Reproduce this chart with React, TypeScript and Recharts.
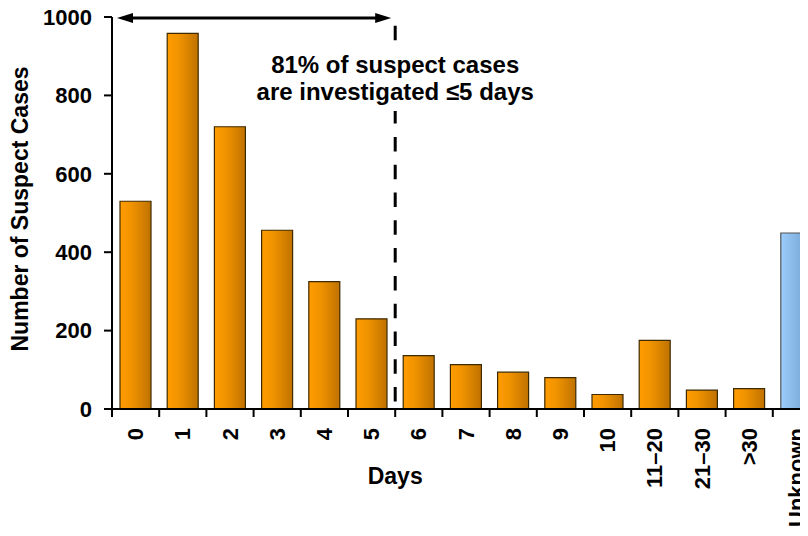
import React from 'react';
import {
  BarChart,
  Bar,
  Cell,
  XAxis,
  YAxis,
  ReferenceLine,
  Label,
} from 'recharts';

const categories = ['0', '1', '2', '3', '4', '5', '6', '7', '8', '9', '10', '11–20', '21–30', '>30', 'Unknown'];
const suspectCases = [530, 958, 720, 456, 325, 230, 136, 113, 94, 80, 37, 175, 48, 52, 449];
const yTicks = [0, 200, 400, 600, 800, 1000];
const noteLines = ['81% of suspect cases', 'are investigated ≤5 days'];
const cutoffCategory = '6';
const unknownCategory = 'Unknown';

const data = categories.map((day, i) => ({ day, cases: suspectCases[i] }));

const FONT = '"Liberation Sans", Arial, sans-serif';
const CHART_W = 830;
const CHART_H = 528;
const MARGIN = { top: 9, right: 18, bottom: 0, left: 0 };
const Y_AXIS_W = 104;
const X_AXIS_H = 127;
const PLOT_W = CHART_W - MARGIN.left - MARGIN.right - Y_AXIS_W;
const BAND = PLOT_W / categories.length;

const XTick = (props: any) => {
  const { x, y, payload } = props;
  return (
    <g>
      <line x1={x - BAND / 2} x2={x - BAND / 2} y1={y - 8} y2={y} stroke="#000" strokeWidth={2} />
      <text
        x={x}
        y={y + 11}
        transform={`rotate(-90, ${x}, ${y + 11})`}
        textAnchor="end"
        dominantBaseline="central"
        fontFamily={FONT}
        fontWeight="bold"
        fontSize={22}
        fill="#000"
      >
        {payload.value}
      </text>
    </g>
  );
};

// dashed cutoff line, dashes laid out from the top down
const CutoffShape = (props: any) => {
  const { x1, y1, y2 } = props;
  const top = Math.min(y1, y2) + 8.7;
  const bottom = Math.max(y1, y2);
  return (
    <line x1={x1} x2={x1} y1={top} y2={bottom} stroke="#000" strokeWidth={3} strokeDasharray="14.5 13.3" />
  );
};

const ArrowShape = (props: any) => {
  const { x1, y1 } = props;
  const left = x1 + 5;
  const right = x1 + 6 * BAND - 4;
  const y = y1 + 1;
  return (
    <g>
      <line x1={left + 10} x2={right - 10} y1={y} y2={y} stroke="#000" strokeWidth={3} />
      <polygon points={`${left},${y} ${left + 16},${y - 5} ${left + 16},${y + 5}`} fill="#000" />
      <polygon points={`${right},${y} ${right - 16},${y - 5} ${right - 16},${y + 5}`} fill="#000" />
    </g>
  );
};

const NoteLabel = (props: any) => {
  const { viewBox } = props;
  const cx = viewBox.x;
  return (
    <g>
      <rect x={cx - 145} y={33} width={290} height={70} fill="#fff" />
      {noteLines.map((line, i) => (
        <text
          key={line}
          x={cx}
          y={65 + i * 27}
          textAnchor="middle"
          fontFamily={FONT}
          fontWeight="bold"
          fontSize={24}
          fill="#000"
        >
          {line}
        </text>
      ))}
    </g>
  );
};

export default function App() {
  return (
    <div style={{ width: 800, height: CHART_H, marginBottom: -8, overflow: 'hidden' }}>
      <BarChart width={CHART_W} height={CHART_H} data={data} margin={MARGIN}>
        <defs>
          <linearGradient id="orangeFill" x1="0" y1="0" x2="1" y2="0">
            <stop offset="0%" stopColor="#FF9C00" />
            <stop offset="35%" stopColor="#F29400" />
            <stop offset="100%" stopColor="#BF7200" />
          </linearGradient>
          <linearGradient id="blueFill" x1="0" y1="0" x2="1" y2="0">
            <stop offset="0%" stopColor="#9CCDFB" />
            <stop offset="100%" stopColor="#6E9DC9" />
          </linearGradient>
        </defs>
        <XAxis
          dataKey="day"
          type="category"
          interval={0}
          height={X_AXIS_H}
          axisLine={{ stroke: '#000', strokeWidth: 2 }}
          tickLine={false}
          tick={<XTick />}
        >
          <Label
            content={(p: any) => (
              <text
                x={p.viewBox.x + p.viewBox.width * 0.4}
                y={p.viewBox.y + 75}
                textAnchor="middle"
                fontFamily={FONT}
                fontWeight="bold"
                fontSize={23}
                fill="#000"
              >
                Days
              </text>
            )}
          />
        </XAxis>
        <YAxis
          width={Y_AXIS_W}
          domain={[0, 1000]}
          ticks={yTicks}
          interval={0}
          axisLine={{ stroke: '#000', strokeWidth: 2 }}
          tickLine={{ stroke: '#000', strokeWidth: 2 }}
          tickSize={8}
          tickMargin={12}
          tick={{ fill: '#000', fontFamily: FONT, fontWeight: 'bold', fontSize: 22 }}
        >
          <Label
            content={(p: any) => {
              const x = 20;
              const y = p.viewBox.y + p.viewBox.height / 2 - 4;
              return (
                <text
                  x={x}
                  y={y}
                  transform={`rotate(-90, ${x}, ${y})`}
                  textAnchor="middle"
                  fontFamily={FONT}
                  fontWeight="bold"
                  fontSize={23}
                  fill="#000"
                >
                  Number of Suspect Cases
                </text>
              );
            }}
          />
        </YAxis>
        <Bar dataKey="cases" barSize={31} isAnimationActive={false} stroke="#3F2A00" strokeWidth={1.2}>
          {data.map((d) => (
            <Cell
              key={d.day}
              fill={d.day === unknownCategory ? 'url(#blueFill)' : 'url(#orangeFill)'}
              stroke={d.day === unknownCategory ? '#555' : '#3F2A00'}
            />
          ))}
        </Bar>
        <ReferenceLine
          x={cutoffCategory}
          position="start"
          stroke="#000"
          shape={<CutoffShape />}
          label={<NoteLabel />}
        />
        <ReferenceLine y={1000} stroke="#000" shape={<ArrowShape />} />
      </BarChart>
    </div>
  );
}
